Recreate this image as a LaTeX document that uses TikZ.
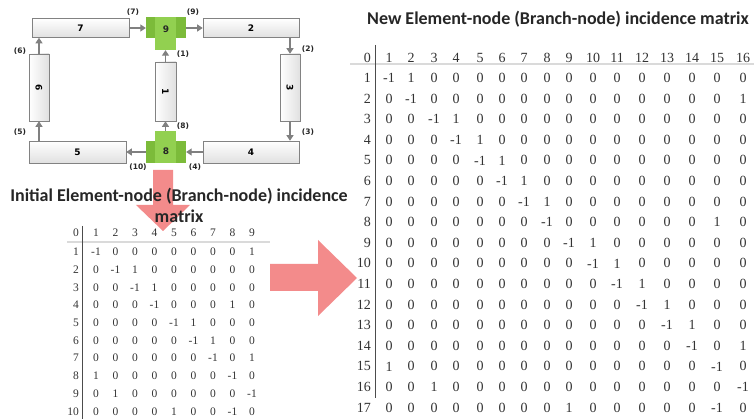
\documentclass[tikz,border=0pt]{standalone}
\usepackage{fontspec}
\setmainfont{Liberation Serif}
\newfontfamily\titlefont{Carlito}
\newfontfamily\labelfont{DejaVu Sans}
\usetikzlibrary{arrows.meta}

\definecolor{arrowpink}{RGB}{243,139,139}
\definecolor{busdark}{RGB}{124,187,58}
\definecolor{buslight}{RGB}{146,208,80}
\definecolor{flowgray}{RGB}{128,128,128}
\definecolor{boxedge}{RGB}{130,130,130}
\definecolor{rulegray}{RGB}{218,218,218}

\tikzset{
  element/.style={draw=boxedge, line width=0.6pt, top color=white, bottom color=black!12, inner sep=0pt, font=\labelfont\bfseries\fontsize{9}{9}\selectfont},
  velement/.style={draw=boxedge, line width=0.6pt, left color=white, right color=black!12, inner sep=0pt, minimum width=20},
  vtext/.style={font=\labelfont\bfseries\fontsize{9}{9}\selectfont, rotate=-90, inner sep=0pt},
  busbar/.style={fill=busdark, inner sep=0pt, minimum width=40},
  buscol/.style={fill=buslight, inner sep=0pt, minimum width=21},
  bustext/.style={font=\labelfont\bfseries\fontsize{9}{9}\selectfont, inner sep=0pt, text=black!85},
  flow/.style={draw=flowgray, line width=1.1pt, -{Triangle[length=5.5pt,width=7pt]}},
  portlabel/.style={font=\labelfont\bfseries\fontsize{7.5}{8}\selectfont, inner sep=0pt, text=black!85},
  titletext/.style={font=\titlefont\bfseries\fontsize{18}{21}\selectfont, inner sep=0pt, text=black!85},
  smallnum/.style={font=\fontsize{11.5}{12}\selectfont, inner sep=0pt, text=black!80},
  bignum/.style={font=\fontsize{14}{15}\selectfont, inner sep=0pt, text=black!80}
}

\begin{document}
\begin{tikzpicture}[x=1pt,y=1pt,yscale=-1]
\useasboundingbox (0,0) rectangle (754,419);

%Shape: Element boxes
\node[element, minimum width=97, minimum height=19] (b7) at (80.5,28) {7};
\node[element, minimum width=96, minimum height=19] (b2) at (251,28) {2};
\node[element, minimum width=96, minimum height=22] (b4) at (251,152) {4};
\node[element, minimum width=97, minimum height=22] (b5) at (77.5,152) {5};
\node[velement, minimum height=67, label={[vtext]center:3}] (b3) at (290,87.5) {};
\node[velement, minimum height=67, label={[vtext]center:6}] (b6) at (39,87.5) {};
\node[velement, minimum width=21, minimum height=59, label={[vtext]center:1}] (b1) at (165.5,91.5) {};

%Shape: Bus 9
\node[busbar, minimum height=21] (g9bar) at (166,28) {};
\node[buscol, minimum height=33] (g9col) at (165.5,33.5) {};
\node[bustext] (n9) at (166,29) {9};
%Shape: Bus 8
\node[busbar, minimum height=22] (g8bar) at (166,152) {};
\node[buscol, minimum height=32] (g8col) at (165.5,147) {};
\node[bustext] (n8) at (166,151) {8};

%Straight Lines
\draw[flow] (b7.east) -- (g9bar.west);
\draw[flow] (g9bar.east) -- (b2.west);
\draw[flow] (b2.south -| b3.north) -- (b3.north);
\draw[flow] (b3.south) -- (b3.south |- b4.north);
\draw[flow] (b4.west) -- (g8bar.east);
\draw[flow] (g8bar.west) -- (b5.east);
\draw[flow] (b5.north -| b6.south) -- (b6.south);
\draw[flow] (b6.north) -- (b6.north |- b7.south);
\draw[flow] (g8col.north) -- (b1.south);
\draw[flow] (b1.north) -- (g9col.south);

% Text Node
\node[portlabel] (p7) at (133,12) {(7)};
\node[portlabel] (p9) at (193,12) {(9)};
\node[portlabel] (p1) at (183,54) {(1)};
\node[portlabel] (p2) at (308,49) {(2)};
\node[portlabel] (p3) at (308,132) {(3)};
\node[portlabel] (p8) at (183,126) {(8)};
\node[portlabel] (p4) at (195,167) {(4)};
\node[portlabel] (p10) at (138,167) {(10)};
\node[portlabel] (p5) at (20,132) {(5)};
\node[portlabel] (p6) at (20,51) {(6)};

%Shape: Block arrows
\fill[arrowpink] (153,170) -- (173,170) -- (173,205) -- (190,205) -- (163,231) -- (136,205) -- (153,205) -- cycle;
\fill[arrowpink] (270,264) -- (318,264) -- (318,240) -- (357,278) -- (318,316) -- (318,291) -- (270,291) -- cycle;

% Text Node
\node[titletext, align=center] (initTitle) at (179,205.5) {Initial Element-node (Branch-node) incidence\\matrix};
\node[titletext] (newTitle) at (558,19) {New Element-node (Branch-node) incidence matrix};

%Initial matrix
\draw[rulegray, line width=1.5pt] (67,242) -- (270,242);
\draw[black!70, line width=0.8pt] (82,226) -- (82,419);
\node[smallnum, anchor=east] (sh-0) at (79,233) {0};
\foreach \c in {1,...,9}
  \node[smallnum] (sh-\c) at ({96+(\c-1)*19.5},233) {\c};
\foreach \row [count=\i] in {
  {-1,0,0,0,0,0,0,0,1},
  {0,-1,1,0,0,0,0,0,0},
  {0,0,-1,1,0,0,0,0,0},
  {0,0,0,-1,0,0,0,1,0},
  {0,0,0,0,-1,1,0,0,0},
  {0,0,0,0,0,-1,1,0,0},
  {0,0,0,0,0,0,-1,0,1},
  {1,0,0,0,0,0,0,-1,0},
  {0,1,0,0,0,0,0,0,-1},
  {0,0,0,0,1,0,0,-1,0}} {
  \node[smallnum, anchor=east] (sr-\i) at (79,{252+(\i-1)*17.7}) {\i};
  \foreach \v [count=\j] in \row
    \node[smallnum] (s-\i-\j) at ({96+(\j-1)*19.5},{252+(\i-1)*17.7}) {\v};
}

%New matrix
\draw[rulegray, line width=1.5pt] (350,64) -- (754,64);
\draw[black!70, line width=0.8pt] (375,45) -- (375,398);
\node[bignum, anchor=east] (bh-0) at (371,58) {0};
\foreach \c in {1,...,16} {
  \pgfmathsetmacro\bx{{389,411,434,456,480,502,524,547,569,593,617,642,667,692,717,743}[\c-1]}
  \node[bignum] (bh-\c) at (\bx,58) {\c};
}
\foreach \row [count=\i] in {
  {-1,1,0,0,0,0,0,0,0,0,0,0,0,0,0,0},
  {0,-1,0,0,0,0,0,0,0,0,0,0,0,0,0,1},
  {0,0,-1,1,0,0,0,0,0,0,0,0,0,0,0,0},
  {0,0,0,-1,1,0,0,0,0,0,0,0,0,0,0,0},
  {0,0,0,0,-1,1,0,0,0,0,0,0,0,0,0,0},
  {0,0,0,0,0,-1,1,0,0,0,0,0,0,0,0,0},
  {0,0,0,0,0,0,-1,1,0,0,0,0,0,0,0,0},
  {0,0,0,0,0,0,0,-1,0,0,0,0,0,0,1,0},
  {0,0,0,0,0,0,0,0,-1,1,0,0,0,0,0,0},
  {0,0,0,0,0,0,0,0,0,-1,1,0,0,0,0,0},
  {0,0,0,0,0,0,0,0,0,0,-1,1,0,0,0,0},
  {0,0,0,0,0,0,0,0,0,0,0,-1,1,0,0,0},
  {0,0,0,0,0,0,0,0,0,0,0,0,-1,1,0,0},
  {0,0,0,0,0,0,0,0,0,0,0,0,0,-1,0,1},
  {1,0,0,0,0,0,0,0,0,0,0,0,0,0,-1,0},
  {0,0,1,0,0,0,0,0,0,0,0,0,0,0,0,-1},
  {0,0,0,0,0,0,0,0,1,0,0,0,0,0,-1,0}} {
  \node[bignum, anchor=east] (br-\i) at (371,{78+(\i-1)*20.6}) {\i};
  \foreach \v [count=\j] in \row {
    \pgfmathsetmacro\bx{{389,411,434,456,480,502,524,547,569,593,617,642,667,692,717,743}[\j-1]}
    \node[bignum] (n-\i-\j) at (\bx,{78+(\i-1)*20.6}) {\v};
  }
}

\end{tikzpicture}
\end{document}
